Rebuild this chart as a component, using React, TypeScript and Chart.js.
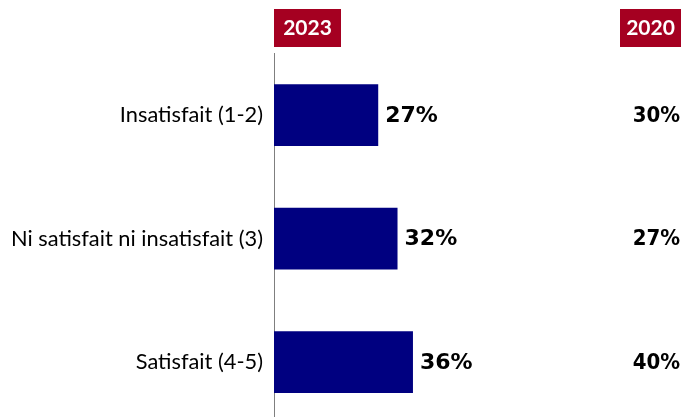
import React, { useEffect, useRef } from "react";
import { Chart, registerables } from "chart.js";

Chart.register(...registerables);

const categories = ["Insatisfait (1-2)", "Ni satisfait ni insatisfait (3)", "Satisfait (4-5)"];
const values2023 = [27, 32, 36];
const values2020 = [30, 27, 40];
const headerCurrent = "2023";
const headerPrevious = "2020";

const BAR_COLOR = "#000080";
const BOX_COLOR = "#A50021";

export default function App() {
  const ref = useRef<HTMLCanvasElement | null>(null);

  useEffect(() => {
    if (!ref.current) return;
    const overlay = {
      id: "overlay",
      afterDatasetsDraw(chart: any) {
        const ctx = chart.ctx;
        const meta = chart.getDatasetMeta(0);
        ctx.save();
        ctx.textBaseline = "middle";
        ctx.fillStyle = "#000";
        meta.data.forEach((bar: any, i: number) => {
          ctx.font = "bold 22px 'DejaVu Sans'";
          ctx.textAlign = "left";
          ctx.fillText(values2023[i] + "%", bar.x + 7, bar.y + 1);
          ctx.font = "bold 22px 'DejaVu Sans Condensed'";
          ctx.textAlign = "right";
          ctx.fillText(values2020[i] + "%", 680, bar.y + 1);
        });
        // headers
        const left = chart.chartArea.left;
        ctx.fillStyle = BOX_COLOR;
        ctx.fillRect(left, 9, 67, 38);
        ctx.fillRect(620, 9, 61, 38);
        ctx.fillStyle = "#fff";
        ctx.font = "bold 21px Lato";
        ctx.textAlign = "center";
        ctx.fillText(headerCurrent, left + 33.5, 28.5);
        ctx.fillText(headerPrevious, 650.5, 28.5);
        ctx.restore();
      },
    };
    const chart = new Chart(ref.current, {
      type: "bar",
      data: {
        labels: categories,
        datasets: [
          {
            data: values2023,
            backgroundColor: BAR_COLOR,
            barPercentage: 0.5,
            categoryPercentage: 1,
          },
        ],
      },
      options: {
        indexAxis: "y",
        responsive: false,
        animation: false,
        layout: { padding: { top: 53.5, right: 25, bottom: 0, left: 0 } },
        plugins: { legend: { display: false }, tooltip: { enabled: false } },
        scales: {
          x: { display: false, min: 0, max: 100 },
          y: {
            grid: { display: false },
            border: { display: true, color: "#7f7f7f", width: 1 },
            ticks: { color: "#000", font: { family: "Lato", size: 21.8 }, padding: 3 },
            afterFit: (s: any) => {
              s.width = 274;
            },
          },
        },
      },
      plugins: [overlay],
    });
    return () => chart.destroy();
  }, []);

  return (
    <div style={{ position: "fixed", left: 0, top: 0, width: 685, height: 417, overflow: "hidden", background: "#fff" }}>
      <canvas ref={ref} width={685} height={440} style={{ display: "block" }} />
    </div>
  );
}
